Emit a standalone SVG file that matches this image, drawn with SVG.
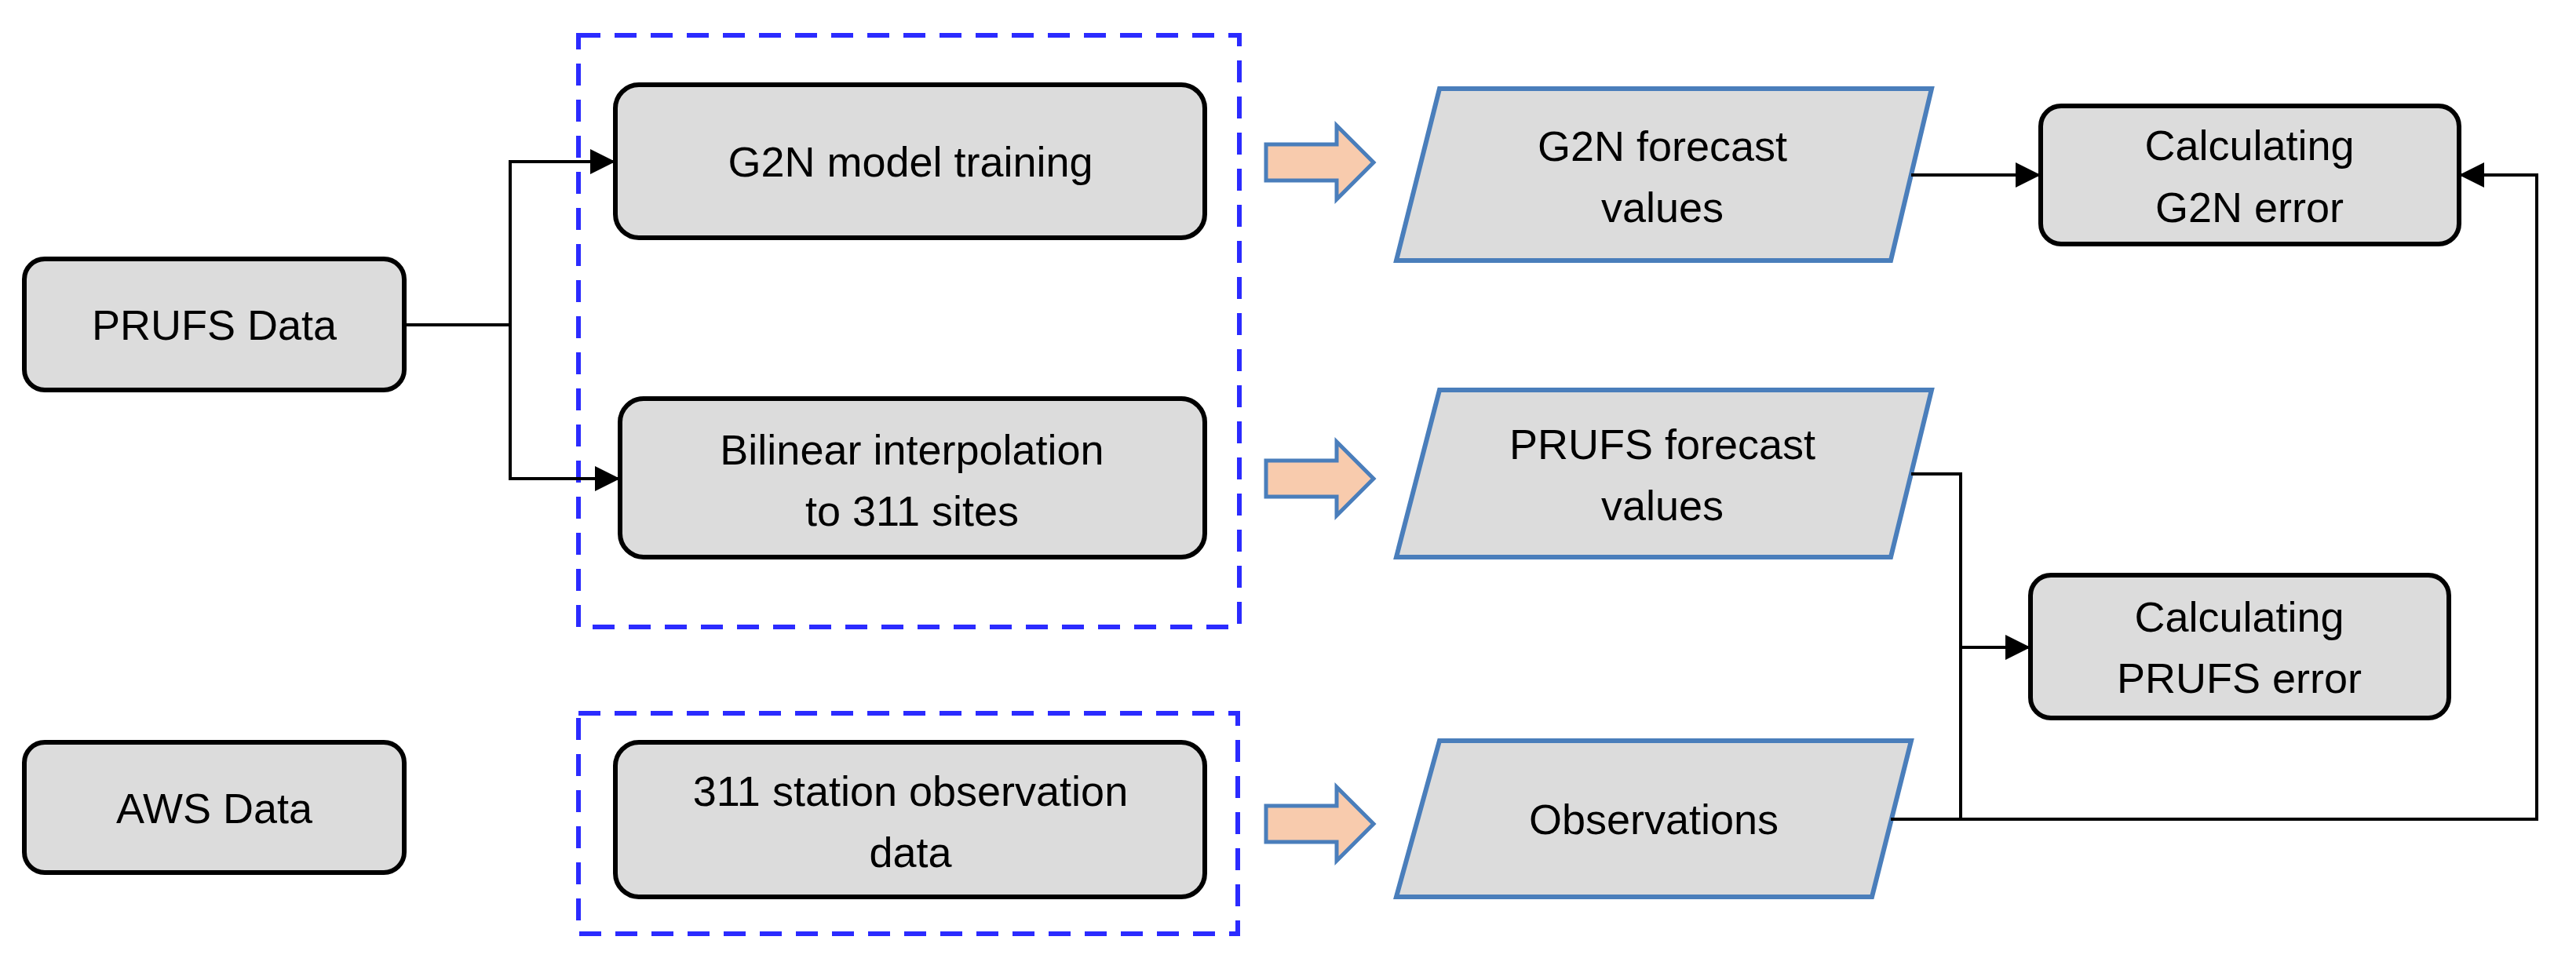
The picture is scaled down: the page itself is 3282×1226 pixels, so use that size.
<svg xmlns="http://www.w3.org/2000/svg" width="3282" height="1226" viewBox="0 0 3282 1226">
<style>
.box{fill:#dcdcdc;stroke:#000;stroke-width:6}
.para{fill:#dcdcdc;stroke:#4a7ebb;stroke-width:6}
.dash{fill:none;stroke:#2b2bff;stroke-width:6;stroke-dasharray:28 18}
.big{fill:#f8cbad;stroke:#4a7ebb;stroke-width:5}
.c{fill:none;stroke:#000;stroke-width:4}
text{font-family:"Liberation Sans",Arial,sans-serif;font-size:54px;text-anchor:middle;fill:#000}
</style>
<defs><marker id="ah" viewBox="0 0 10 10" refX="10" refY="5" markerWidth="9" markerHeight="9" markerUnits="userSpaceOnUse" orient="auto"><path d="M0,0L10,5L0,10z"/></marker>
<marker id="a" viewBox="0 0 10 10" refX="10" refY="5" markerWidth="32" markerHeight="32" markerUnits="userSpaceOnUse" orient="auto"><path d="M0,0L10,5L0,10z" fill="#000"/></marker></defs>
<rect class="dash" x="737" y="45" width="842" height="754"/>
<rect class="dash" x="737" y="909" width="840" height="281"/>
<g id="prufs"><rect class="box" x="31" y="330" width="484" height="167" rx="26"/><text x="273" y="433">PRUFS Data</text></g>
<g id="aws"><rect class="box" x="31" y="946" width="484" height="166" rx="26"/><text x="273" y="1049">AWS Data</text></g>
<g id="train"><rect class="box" x="784" y="108" width="751" height="195" rx="30"/><text x="1160" y="225">G2N model training</text></g>
<g id="bilin"><rect class="box" x="790" y="508" width="745" height="202" rx="30"/><text x="1162" y="592">Bilinear interpolation</text><text x="1162" y="670">to 311 sites</text></g>
<g id="station"><rect class="box" x="784" y="946" width="751" height="197" rx="30"/><text x="1160" y="1027">311 station observation</text><text x="1160" y="1105">data</text></g>
<g id="bigarrows">
<path class="big" d="M1613,184H1703V160L1750,207L1703,254V230H1613z"/>
<path class="big" d="M1613,587H1703V563L1750,610L1703,657V633H1613z"/>
<path class="big" d="M1613,1027H1703V1003L1750,1050L1703,1097V1073H1613z"/>
</g>
<g id="g2nf"><path class="para" d="M1834,113H2461L2409,332H1779z"/><text x="2118" y="205">G2N forecast</text><text x="2118" y="283">values</text></g>
<g id="prufsf"><path class="para" d="M1834,497H2461L2409,710H1779z"/><text x="2118" y="585">PRUFS forecast</text><text x="2118" y="663">values</text></g>
<g id="obs"><path class="para" d="M1834,944H2435L2385,1143H1779z"/><text x="2107" y="1063">Observations</text></g>
<g id="g2ne"><rect class="box" x="2600" y="135" width="533" height="176" rx="26"/><text x="2866" y="204">Calculating</text><text x="2866" y="283">G2N error</text></g>
<g id="prufse"><rect class="box" x="2587" y="733" width="533" height="182" rx="26"/><text x="2853" y="805">Calculating</text><text x="2853" y="883">PRUFS error</text></g>
<g id="connectors">
<path class="c" d="M515,414H650V206H784" marker-end="url(#a)"/>
<path class="c" d="M650,414V610H790" marker-end="url(#a)"/>
<path class="c" d="M2435,223H2600" marker-end="url(#a)"/>
<path class="c" d="M2435,604H2498V1044" />
<path class="c" d="M2498,825H2587" marker-end="url(#a)"/>
<path class="c" d="M2409,1044H3232V223H3133" marker-end="url(#a)"/>
</g>
</svg>
